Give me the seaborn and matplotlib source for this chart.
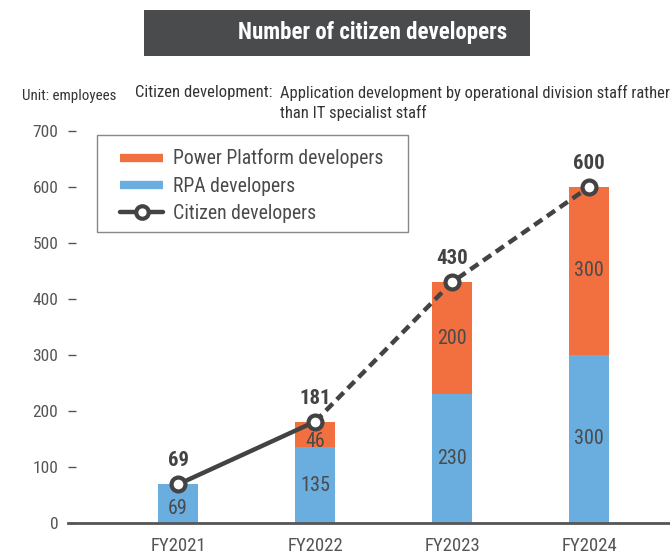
import numpy as np
import pandas as pd
import seaborn as sns
import matplotlib.pyplot as plt
from matplotlib.lines import Line2D
from matplotlib.patches import Rectangle

years = ["FY2021", "FY2022", "FY2023", "FY2024"]
rpa = [69, 135, 230, 300]
power = [0, 46, 200, 300]
total = [69, 181, 430, 600]
yticks = [0, 100, 200, 300, 400, 500, 600, 700]

orange = "#F26F40"
blue = "#6AADDF"
dark = "#434343"
grey = "#555555"
W, H = 670, 557

sns.set_theme(style="white")
plt.rcParams["font.family"] = ["Roboto Condensed", "DejaVu Sans"]

fig = plt.figure(figsize=(6.7, 5.57), dpi=100)
ax = fig.add_axes([68 / W, 34 / H, 602 / W, 392 / H])

df = pd.DataFrame({"year": years, "rpa": rpa, "power": power, "total": total})

# stacked bars: draw totals in orange, then RPA on top in blue
sns.barplot(data=df, x="year", y="total", color=orange, width=0.29, saturation=1,
            linewidth=0, ax=ax)
sns.barplot(data=df, x="year", y="rpa", color=blue, width=0.29, saturation=1,
            linewidth=0, ax=ax)

xs = np.arange(len(years))
ax.plot(xs[:2], total[:2], color=dark, lw=3.2, zorder=5)
ax.plot(xs[1:], total[1:], color=dark, lw=3.2, dashes=(2.2, 1.3), zorder=5)
ax.plot(xs, total, "o", ms=10, mfc="white", mec=dark, mew=3, zorder=6)

for i in range(len(years)):
    ax.text(i, rpa[i] / 2 - (8 if rpa[i] < 100 else 0), str(rpa[i]),
            ha="center", va="center", fontsize=14.5, color="#4a4a4a", zorder=4)
    if power[i] > 0:
        ax.text(i, rpa[i] + power[i] / 2 - (12 if power[i] < 100 else 0), str(power[i]),
                ha="center", va="center", fontsize=14.5, color="#4a4a4a", zorder=4)
    ax.annotate(str(total[i]), (i, total[i]), xytext=(0, 17), textcoords="offset points",
                ha="center", va="center", fontsize=15, fontweight="bold", color=dark,
                annotation_clip=False)

ax.set_xlim(-0.803, 3.591)
ax.set_ylim(0, 700)
ax.set_yticks(yticks)
ax.set_xlabel("")
ax.set_ylabel("")
sns.despine(ax=ax, left=True, top=True, right=True)
ax.spines["bottom"].set_color(grey)
ax.spines["bottom"].set_linewidth(2)
ax.tick_params(axis="y", direction="in", length=6, width=1, color=grey, pad=7,
               labelsize=12.5, labelcolor=grey, left=True)
ax.tick_params(axis="x", length=0, pad=10, labelsize=13.5, labelcolor=grey)

# legend frame drawn by hand so the padding matches
ax.add_patch(Rectangle((97 / W, 1 - 232 / H), 311 / W, 97 / H, transform=fig.transFigure,
                       facecolor="white", edgecolor="#888888", lw=1, zorder=7,
                       clip_on=False))
handles = [
    Line2D([], [], color=orange, lw=6, solid_capstyle="butt"),
    Line2D([], [], color=blue, lw=6, solid_capstyle="butt"),
    Line2D([], [], color=dark, lw=3.2, marker="o", ms=9, mfc="white", mec=dark, mew=3),
]
leg = ax.legend(handles, ["Power Platform developers", "RPA developers", "Citizen developers"],
                loc="upper left", bbox_to_anchor=(120 / W, 1 - 149 / H),
                bbox_transform=fig.transFigure, borderaxespad=0, borderpad=0,
                fontsize=14.2, frameon=False, handlelength=2.2,
                labelspacing=0.42, handletextpad=0.5)
leg.set_zorder(8)
for t in leg.get_texts():
    t.set_color("#4a4a4a")

# title box
fig.patches.append(Rectangle((144 / W, 1 - 56 / H), 386 / W, 46 / H,
                             transform=fig.transFigure, facecolor="#4a4b4d",
                             edgecolor="none", zorder=0))
fig.text(373 / W, 1 - 33 / H, "Number of citizen developers", ha="center", va="center",
         fontsize=16.5, fontweight="bold", color="white")

fig.text(22 / W, 1 - 96 / H, "Unit: employees", ha="left", va="center",
         fontsize=10.8, color="#333333")
fig.text(135 / W, 1 - 93 / H, "Citizen development:", ha="left", va="center",
         fontsize=12, color="#333333")
fig.text(280 / W, 1 - 93 / H, "Application development by operational division staff rather",
         ha="left", va="center", fontsize=11.9, color="#333333")
fig.text(280 / W, 1 - 113 / H, "than IT specialist staff",
         ha="left", va="center", fontsize=11.9, color="#333333")

fig.savefig("out.png", dpi=100)
